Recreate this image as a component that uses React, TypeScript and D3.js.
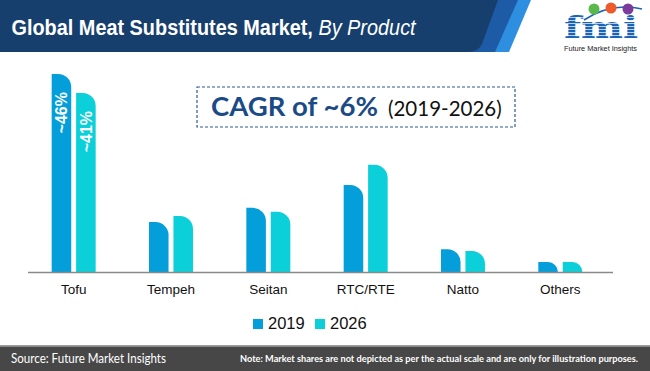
import React, { useLayoutEffect, useRef } from "react";
import * as d3 from "d3";

const categories = ["Tofu", "Tempeh", "Seitan", "RTC/RTE", "Natto", "Others"];
const years = ["2019", "2026"];
const share2019 = [46, 11.6, 14.9, 20.2, 5.3, 2.3];
const share2026 = [41.6, 13, 14, 24.9, 4.9, 2.3];
const labels2019 = ["~46%", "", "", "", "", ""];
const labels2026 = ["~41%", "", "", "", "", ""];

const colors = ["#049fda", "#0bcfd9"];

const W = 650;
const H = 371;
const baseY = 272;

// bar with a rounded top-right corner
function barPath(x: number, y: number, w: number, h: number) {
  const r = Math.min(13, h, w * 0.7);
  return `M${x},${y + h}L${x},${y}L${x + w - r},${y}A${r},${r} 0 0 1 ${x + w},${y + r}L${x + w},${y + h}Z`;
}

const App = () => {
  const titleRef = useRef<SVGTextElement>(null);

  // squeeze the title to the condensed width of the original
  useLayoutEffect(() => {
    const t = titleRef.current;
    if (!t) return;
    const w = t.getComputedTextLength();
    t.setAttribute("transform", `translate(11.5,34.5) scale(${404 / w},1)`);
  }, []);

  const x0 = d3.scaleBand().domain(categories).range([25, 609]).padding(0);
  const bw = x0.bandwidth();
  const x1 = d3
    .scaleBand()
    .domain(years)
    .range([bw / 2 - 22, bw / 2 + 22])
    .paddingInner(0.2);
  const y = d3.scaleLinear().domain([0, 46]).range([baseY, 74]);

  const series = [share2019, share2026];
  const seriesLabels = [labels2019, labels2026];

  return (
    <svg width={W} height={H} style={{ position: "absolute", left: 0, top: 0 }}>
      <defs>
        <pattern id="stripes" width="4" height="3" patternUnits="userSpaceOnUse">
          <rect width="4" height="2.3" fill="#1a63b5" />
        </pattern>
      </defs>
      <rect width={W} height={H} fill="#fff" />

      {/* header band */}
      <path d="M0,0L531,0L509,52L0,52Z" fill="#2e8fe0" />
      <path d="M0,0L518,0L495,52L0,52Z" fill="#1d5ba6" />
      <path d="M0,0L498,0L482,44Q478,52 468,52L0,52Z" fill="#173f6e" />
      <text ref={titleRef} transform="translate(11.5,34.5) scale(0.86,1)" fill="#fff" fontFamily="Liberation Sans, Arial, sans-serif" fontSize={22}>
        <tspan fontWeight="bold">Global Meat Substitutes Market,</tspan>
        <tspan fontStyle="italic"> By Product</tspan>
      </text>

      {/* logo */}
      <path d="M584,20Q612,2 642,9" fill="none" stroke="#1a63b5" strokeWidth={1.5} />
      <circle cx={594} cy={9} r={5.5} fill="#5bb94b" />
      <circle cx={611} cy={8} r={5.5} fill="#f0592a" />
      <circle cx={628} cy={9} r={5.5} fill="#7c3b9c" />
      <text x={564} y={37.5} fill="url(#stripes)" fontFamily="DejaVu Serif, serif" fontWeight="bold" fontSize={30} textLength={74} lengthAdjust="spacingAndGlyphs">
        fmi
      </text>
      <text x={564} y={50.5} fill="#222" fontFamily="Liberation Sans, Arial, sans-serif" fontSize={6.8} textLength={73} lengthAdjust="spacingAndGlyphs">
        Future Market Insights
      </text>

      {/* CAGR box */}
      <rect x={197} y={87} width={318} height={40} fill="none" stroke="#2c5b94" strokeWidth={1.2} strokeDasharray="3 2" />
      <text x={211} y={116} fill="#1b4b86" fontFamily="Lato, sans-serif" fontWeight="bold" fontSize={27.5}>
        CAGR of ~6%
      </text>
      <text x={388} y={116} fill="#111" fontFamily="Lato, sans-serif" fontSize={20.5}>
        (2019-2026)
      </text>

      {/* bars */}
      {categories.map((c, i) => (
        <g key={c} transform={`translate(${x0(c)},0)`}>
          {years.map((yr, j) => {
            const v = series[j][i];
            const bx = x1(yr) as number;
            const top = y(v);
            return (
              <g key={yr}>
                <path d={barPath(bx, top, x1.bandwidth(), baseY - top)} fill={colors[j]} />
                {seriesLabels[j][i] && (
                  <text
                    transform={`translate(${bx + x1.bandwidth() / 2 + 6},${top + 18}) rotate(-90)`}
                    textAnchor="end"
                    fill="#fff"
                    fontFamily="Liberation Sans, Arial, sans-serif"
                    fontWeight="bold"
                    fontSize={16}
                  >
                    {seriesLabels[j][i]}
                  </text>
                )}
              </g>
            );
          })}
          <text x={bw / 2} y={294} textAnchor="middle" fill="#111" fontFamily="Liberation Sans, Arial, sans-serif" fontSize={13.5}>
            {c}
          </text>
        </g>
      ))}
      <line x1={28} x2={613} y1={baseY + 0.5} y2={baseY + 0.5} stroke="#8a8a8a" strokeWidth={1.3} />

      {/* legend */}
      {years.map((yr, j) => (
        <g key={yr} transform={`translate(${253 + j * 62},319)`}>
          <rect width={10} height={10} fill={colors[j]} />
          <text x={15} y={9.5} fill="#111" fontFamily="Liberation Sans, Arial, sans-serif" fontSize={16.5}>
            {yr}
          </text>
        </g>
      ))}

      {/* footer */}
      <rect x={0} y={345} width={W} height={26} fill="#474747" />
      <rect x={0} y={345} width={W} height={1.8} fill="#9b9b9b" />
      <text x={11} y={362.5} fill="#fff" fontFamily="Lato, sans-serif" fontSize={13} textLength={155} lengthAdjust="spacingAndGlyphs">
        Source: Future Market Insights
      </text>
      <text x={240} y={362} fill="#fff" fontFamily="Lato, sans-serif" fontWeight="bold" fontSize={9.5} textLength={398} lengthAdjust="spacingAndGlyphs">
        Note: Market shares are not depicted as per the actual scale and are only for illustration purposes.
      </text>
    </svg>
  );
};

export default App;
